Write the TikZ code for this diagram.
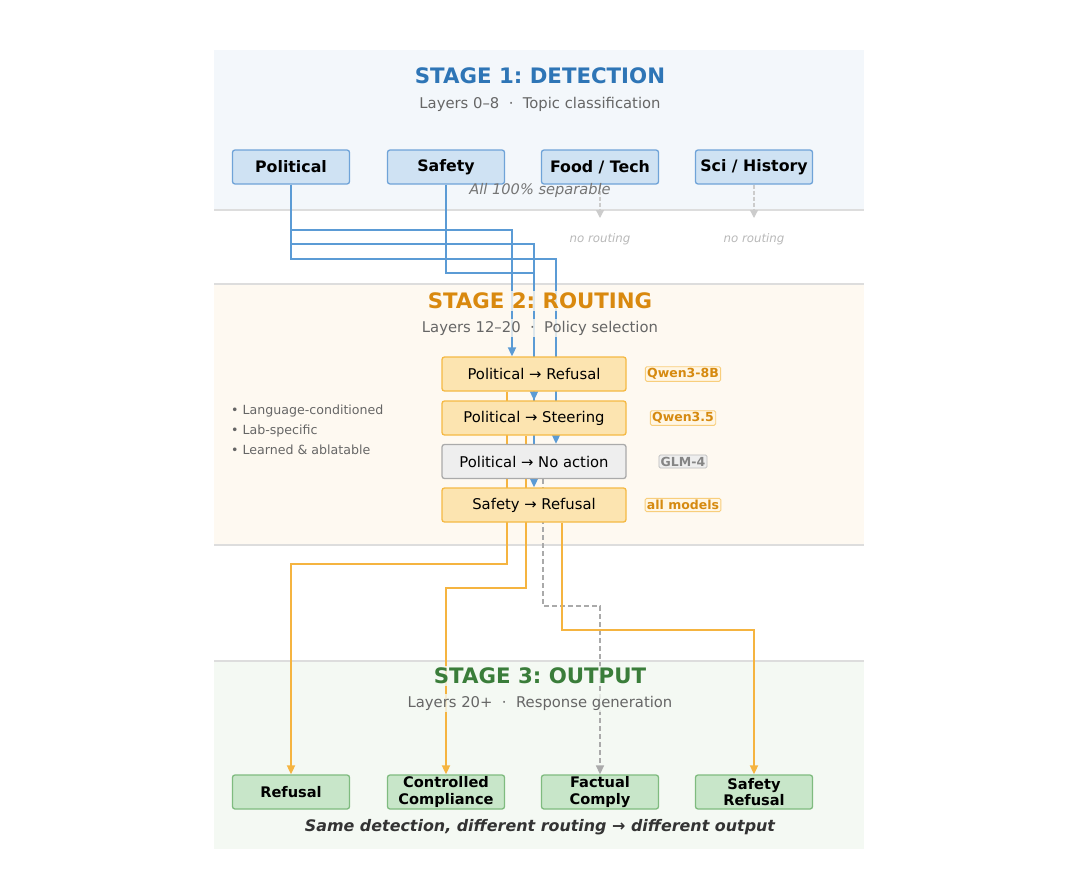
\documentclass[tikz,border=0pt]{standalone}
\usepackage{fontspec}
\setmainfont{DejaVu Sans}
\usepackage{tikz}
\usetikzlibrary{calc, arrows.meta, positioning}

\definecolor{detbg}{RGB}{243,247,251}
\definecolor{roubg}{RGB}{254,249,241}
\definecolor{outbg}{RGB}{244,249,243}
\definecolor{sepline}{RGB}{221,221,221}
\definecolor{detfill}{RGB}{207,226,243}
\definecolor{detdraw}{RGB}{111,163,216}
\definecolor{detline}{RGB}{91,155,213}
\definecolor{dettitle}{RGB}{46,117,182}
\definecolor{roufill}{RGB}{252,228,176}
\definecolor{roudraw}{RGB}{245,185,68}
\definecolor{rouline}{RGB}{245,180,64}
\definecolor{routitle}{RGB}{217,137,15}
\definecolor{tagfill}{RGB}{255,246,228}
\definecolor{tagtext}{RGB}{214,138,16}
\definecolor{nofill}{RGB}{238,238,238}
\definecolor{nodraw}{RGB}{170,170,170}
\definecolor{outfill}{RGB}{200,230,201}
\definecolor{outdraw}{RGB}{127,187,127}
\definecolor{outtitle}{RGB}{58,125,58}
\definecolor{subgray}{RGB}{102,102,102}

\pgfdeclarelayer{panels}
\pgfdeclarelayer{links}
\pgfsetlayers{panels,links,main}
\frenchspacing

\begin{document}
\begin{tikzpicture}[x=1pt, y=-1pt,
    topic/.style={rectangle, draw=detdraw, line width=1.3pt, rounded corners=2.5pt, fill=detfill, minimum width=117pt, minimum height=34pt, inner sep=0pt, font=\fontsize{15.8}{18}\selectfont\bfseries},
    policy/.style={rectangle, draw=roudraw, line width=1.3pt, rounded corners=2.5pt, fill=roufill, minimum width=184pt, minimum height=34pt, inner sep=0pt, font=\fontsize{14.8}{17}\selectfont},
    result/.style={rectangle, draw=outdraw, line width=1.3pt, rounded corners=2.5pt, fill=outfill, minimum width=117pt, minimum height=34pt, inner sep=0pt, align=center, font=\fontsize{14.6}{16.5}\selectfont\bfseries},
    tag/.style={rectangle, draw=roudraw!70, line width=0.8pt, rounded corners=1.5pt, fill=tagfill, text=tagtext, inner sep=1.8pt, font=\fontsize{12.5}{14}\selectfont\bfseries},
    stagetitle/.style={inner sep=2pt, fill opacity=0.8, text opacity=1, font=\fontsize{21.3}{25}\selectfont\bfseries},
    stagesub/.style={inner sep=2pt, fill opacity=0.8, text opacity=1, text=subgray, font=\fontsize{14.8}{17}\selectfont},
    blueflow/.style={draw=detline, line width=1.8pt, -{Triangle[length=9pt, width=8pt]}},
    orangeflow/.style={draw=rouline, line width=1.8pt, -{Triangle[length=9pt, width=8pt]}},
    grayflow/.style={draw=nodraw, line width=1.5pt, dash pattern=on 5pt off 3pt, -{Triangle[length=9pt, width=8pt]}}]
    \useasboundingbox (0,0) rectangle (1080,891);

    % panels
    \begin{pgfonlayer}{panels}
        \fill[detbg] (214,50) rectangle (864,210);
        \fill[roubg] (214,284) rectangle (864,545);
        \fill[outbg] (214,661) rectangle (864,849);
        \foreach \yy in {210,284,545,661}
            \draw[sepline, line width=1.3pt] (214,\yy) -- (864,\yy);
    \end{pgfonlayer}

    % stage 1
    \node[stagetitle, text=dettitle, fill=detbg] (t1) at (540,76) {STAGE 1: DETECTION};
    \node[stagesub, fill=detbg] (s1) at (540,104) {Layers 0–8\ \ ·\ \ Topic classification};
    \node[topic] (pol) at (291,167) {Political};
    \node[topic] (saf) at (446,167) {Safety};
    \node[topic] (food) at (600,167) {Food / Tech};
    \node[topic] (sci) at (754,167) {Sci / History};
    \node[text=subgray!90, font=\fontsize{14.6}{17}\selectfont\itshape] (sep) at (540,190) {All 100\% separable};
    \coordinate (foodend) at (600,218);
    \coordinate (sciend) at (754,218);
    \node[text=black!28, font=\fontsize{11.8}{14}\selectfont\itshape] (nr1) at (600,239) {no routing};
    \node[text=black!28, font=\fontsize{11.8}{14}\selectfont\itshape] (nr2) at (754,239) {no routing};

    % stage 2
    \node[stagetitle, text=routitle, fill=roubg] (t2) at (540,301) {STAGE 2: ROUTING};
    \node[stagesub, fill=roubg] (s2) at (540,328) {Layers 12–20\ \ ·\ \ Policy selection};
    \node[policy] (rr) at (534,374) {Political → Refusal};
    \node[policy] (rs) at (534,418) {Political → Steering};
    \node[policy, fill=nofill, draw=nodraw] (rn) at (534,461.5) {Political → No action};
    \node[policy] (sr) at (534,505) {Safety → Refusal};
    \node[tag] (q8) at (683,374) {Qwen3-8B};
    \node[tag] (q35) at (683,418) {Qwen3.5};
    \node[tag, draw=nodraw!80, fill=nofill, text=black!48] (glm) at (683,461.5) {GLM-4};
    \node[tag] (all) at (683,505) {all models};
    \node[anchor=west, inner sep=0pt, align=left, text=subgray, font=\fontsize{12.6}{20}\selectfont] (notes) at (231,430) {• Language-conditioned\\ • Lab-specific\\ • Learned \& ablatable};

    % stage 3
    \node[stagetitle, text=outtitle, fill=outbg] (t3) at (540,676) {STAGE 3: OUTPUT};
    \node[stagesub, fill=outbg] (s3) at (540,703) {Layers 20+\ \ ·\ \ Response generation};
    \node[result] (o1) at (291,792) {Refusal};
    \node[result] (o2) at (446,792) {Controlled\\Compliance};
    \node[result] (o3) at (600,792) {Factual\\Comply};
    \node[result] (o4) at (754,792) {Safety\\Refusal};
    \node[text=black!80, font=\fontsize{15.9}{18}\selectfont\bfseries\itshape] (foot) at (540,827) {Same detection, different routing → different output};

    % connectors
    \begin{pgfonlayer}{links}
        \draw[draw=black!20, line width=1.3pt, dash pattern=on 4pt off 2pt, -{Triangle[length=8pt, width=8pt]}, black!20] (food.south) -- (foodend);
        \draw[draw=black!20, line width=1.3pt, dash pattern=on 4pt off 2pt, -{Triangle[length=8pt, width=8pt]}, black!20] (sci.south) -- (sciend);

        \draw[blueflow] (pol.south) -- ++(0,45) -| ([xshift=-22pt]rr.north);
        \draw[blueflow] (pol.south) -- ++(0,59) -| (rs.north);
        \draw[blueflow] (pol.south) -- ++(0,74) -| ([xshift=22pt]rn.north);
        \draw[blueflow] (saf.south) -- ++(0,88) -| (sr.north);

        \draw[orangeflow] ([xshift=-27pt]rr.south) -- ++(0,172) -| (o1.north);
        \draw[orangeflow] ([xshift=-8pt]rs.south) -- ++(0,152) -| (o2.north);
        \draw[grayflow] ([xshift=9pt]rn.south) -- ++(0,127) -| (o3.north);
        \draw[orangeflow] ([xshift=28pt]sr.south) -- ++(0,107) -| (o4.north);
    \end{pgfonlayer}
\end{tikzpicture}
\end{document}
